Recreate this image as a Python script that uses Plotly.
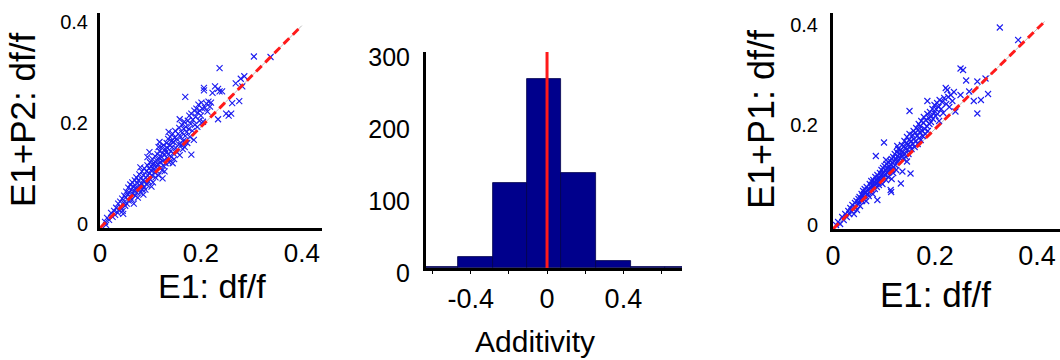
import plotly.graph_objects as go

W, H = 1060, 360
FONT = "Liberation Sans, Arial, sans-serif"

# ---------------- data ----------------
# Left panel: E1 df/f (x) vs E1+P2 df/f (y)
left_pairs = [
    (0.010, 0.012), (0.014, 0.020), (0.018, 0.016), (0.022, 0.030), (0.025, 0.022), (0.028, 0.034), (0.030, 0.026), (0.012, 0.006),
    (0.032, 0.040), (0.035, 0.030), (0.036, 0.048), (0.038, 0.036), (0.040, 0.052), (0.042, 0.040), (0.044, 0.058), (0.045, 0.034),
    (0.047, 0.050), (0.048, 0.064), (0.050, 0.044), (0.046, 0.028),
    (0.051, 0.060), (0.052, 0.072), (0.053, 0.048), (0.055, 0.066), (0.056, 0.080), (0.057, 0.054), (0.058, 0.070), (0.060, 0.062),
    (0.060, 0.086), (0.062, 0.076), (0.063, 0.056), (0.064, 0.090), (0.065, 0.068), (0.066, 0.082), (0.067, 0.048), (0.068, 0.074),
    (0.069, 0.094), (0.070, 0.064),
    (0.071, 0.080), (0.072, 0.100), (0.073, 0.070), (0.074, 0.088), (0.075, 0.060), (0.076, 0.094), (0.077, 0.078), (0.078, 0.106),
    (0.079, 0.084), (0.080, 0.070), (0.081, 0.098), (0.082, 0.088), (0.083, 0.112), (0.084, 0.076), (0.085, 0.094), (0.086, 0.104),
    (0.087, 0.082), (0.088, 0.118), (0.089, 0.092), (0.090, 0.076), (0.080, 0.120), (0.086, 0.066),
    (0.091, 0.100), (0.092, 0.112), (0.093, 0.086), (0.094, 0.124), (0.095, 0.104), (0.096, 0.092), (0.097, 0.118), (0.098, 0.108),
    (0.099, 0.130), (0.100, 0.096), (0.101, 0.114), (0.102, 0.122), (0.103, 0.104), (0.104, 0.136), (0.105, 0.090), (0.106, 0.116),
    (0.107, 0.128), (0.108, 0.110), (0.109, 0.142), (0.110, 0.100), (0.094, 0.140), (0.102, 0.082), (0.098, 0.150), (0.108, 0.124),
    (0.111, 0.120), (0.112, 0.134), (0.113, 0.112), (0.114, 0.146), (0.115, 0.126), (0.116, 0.104), (0.117, 0.138), (0.118, 0.152),
    (0.119, 0.118), (0.120, 0.130), (0.121, 0.160), (0.122, 0.140), (0.123, 0.114), (0.124, 0.148), (0.125, 0.132), (0.126, 0.164),
    (0.127, 0.122), (0.128, 0.144), (0.129, 0.156), (0.130, 0.128), (0.118, 0.170), (0.124, 0.098), (0.116, 0.160), (0.128, 0.112),
    (0.131, 0.150), (0.132, 0.168), (0.133, 0.138), (0.134, 0.158), (0.135, 0.176), (0.136, 0.146), (0.137, 0.130), (0.138, 0.164),
    (0.139, 0.180), (0.140, 0.152), (0.141, 0.140), (0.142, 0.172), (0.143, 0.160), (0.144, 0.186), (0.145, 0.148), (0.146, 0.170),
    (0.147, 0.136), (0.148, 0.178), (0.149, 0.192), (0.150, 0.158), (0.136, 0.190), (0.144, 0.128),
    (0.152, 0.176), (0.153, 0.150), (0.155, 0.186), (0.156, 0.166), (0.157, 0.198), (0.158, 0.144), (0.160, 0.180), (0.161, 0.164),
    (0.162, 0.204), (0.163, 0.188), (0.164, 0.156), (0.165, 0.172), (0.166, 0.196), (0.167, 0.210), (0.168, 0.160), (0.169, 0.182),
    (0.170, 0.200), (0.158, 0.215),
    (0.172, 0.190), (0.173, 0.168), (0.174, 0.212), (0.176, 0.196), (0.177, 0.222), (0.178, 0.180), (0.180, 0.206), (0.181, 0.226),
    (0.183, 0.192), (0.184, 0.214), (0.186, 0.174), (0.187, 0.232), (0.188, 0.204), (0.181, 0.145),
    (0.190, 0.220), (0.191, 0.236), (0.193, 0.200), (0.194, 0.228), (0.195, 0.244), (0.197, 0.212), (0.198, 0.232), (0.200, 0.222),
    (0.201, 0.248), (0.203, 0.236), (0.204, 0.210), (0.206, 0.272), (0.206, 0.277), (0.208, 0.238),
    (0.211, 0.246), (0.213, 0.230), (0.215, 0.250), (0.218, 0.240), (0.220, 0.248), (0.223, 0.267), (0.228, 0.280), (0.234, 0.275),
    (0.234, 0.215), (0.237, 0.270),
    (0.169, 0.259), (0.237, 0.316), (0.242, 0.270), (0.250, 0.226), (0.255, 0.222), (0.260, 0.226), (0.262, 0.247), (0.269, 0.286),
    (0.276, 0.251), (0.279, 0.295), (0.282, 0.280), (0.286, 0.300), (0.305, 0.339), (0.338, 0.338),
]
e1_left = [p[0] for p in left_pairs]
e1p2_left = [p[1] for p in left_pairs]

# Right panel: E1 df/f (x) vs E1+P1 df/f (y)
right_pairs = [
    (0.006, 0.008), (0.010, 0.014), (0.014, 0.010), (0.018, 0.024), (0.021, 0.018), (0.024, 0.030), (0.027, 0.024), (0.030, 0.036),
    (0.032, 0.030), (0.034, 0.042), (0.036, 0.036), (0.038, 0.048), (0.040, 0.040), (0.041, 0.030), (0.043, 0.052), (0.044, 0.044),
    (0.046, 0.056), (0.047, 0.038), (0.049, 0.050), (0.050, 0.060),
    (0.051, 0.054), (0.052, 0.064), (0.053, 0.046), (0.055, 0.060), (0.056, 0.070), (0.057, 0.056), (0.058, 0.066), (0.059, 0.076),
    (0.060, 0.060), (0.061, 0.070), (0.062, 0.080), (0.063, 0.064), (0.064, 0.074), (0.065, 0.056), (0.066, 0.084), (0.067, 0.070),
    (0.068, 0.078), (0.070, 0.066),
    (0.071, 0.080), (0.072, 0.090), (0.073, 0.074), (0.074, 0.084), (0.075, 0.096), (0.076, 0.078), (0.077, 0.088), (0.078, 0.070),
    (0.079, 0.098), (0.080, 0.086), (0.081, 0.094), (0.082, 0.080), (0.083, 0.104), (0.084, 0.090), (0.085, 0.098), (0.086, 0.084),
    (0.087, 0.108), (0.088, 0.094), (0.089, 0.102), (0.090, 0.088), (0.084, 0.146), (0.087, 0.058),
    (0.091, 0.100), (0.092, 0.112), (0.093, 0.094), (0.094, 0.106), (0.095, 0.118), (0.096, 0.100), (0.097, 0.110), (0.098, 0.122),
    (0.099, 0.104), (0.100, 0.114), (0.100, 0.173), (0.101, 0.126), (0.102, 0.108), (0.103, 0.118), (0.104, 0.098), (0.105, 0.130),
    (0.106, 0.112), (0.107, 0.122), (0.108, 0.134), (0.109, 0.116), (0.110, 0.126), (0.104, 0.138), (0.097, 0.090), (0.108, 0.104),
    (0.111, 0.120), (0.112, 0.136), (0.113, 0.078), (0.114, 0.074), (0.115, 0.100), (0.114, 0.128), (0.115, 0.140), (0.116, 0.118),
    (0.117, 0.132), (0.118, 0.144), (0.119, 0.124), (0.120, 0.136), (0.121, 0.150), (0.122, 0.128), (0.123, 0.140), (0.124, 0.118),
    (0.125, 0.154), (0.126, 0.134), (0.127, 0.146), (0.128, 0.160), (0.129, 0.138), (0.130, 0.150), (0.118, 0.112), (0.126, 0.166),
    (0.131, 0.142), (0.132, 0.158), (0.133, 0.091), (0.134, 0.148), (0.135, 0.168), (0.136, 0.115), (0.137, 0.154), (0.138, 0.140),
    (0.139, 0.164), (0.140, 0.176), (0.141, 0.150), (0.142, 0.162), (0.143, 0.144), (0.144, 0.172), (0.145, 0.184), (0.146, 0.158),
    (0.147, 0.168), (0.148, 0.150), (0.149, 0.178), (0.150, 0.190), (0.150, 0.236), (0.145, 0.135),
    (0.151, 0.166), (0.152, 0.111), (0.153, 0.176), (0.154, 0.160), (0.156, 0.188), (0.157, 0.170), (0.158, 0.196), (0.159, 0.180),
    (0.160, 0.164), (0.161, 0.192), (0.162, 0.176), (0.163, 0.202), (0.165, 0.186), (0.166, 0.170), (0.167, 0.198), (0.168, 0.210),
    (0.169, 0.182), (0.170, 0.194),
    (0.171, 0.206), (0.172, 0.178), (0.173, 0.216), (0.175, 0.196), (0.176, 0.186), (0.177, 0.212), (0.178, 0.224), (0.180, 0.200),
    (0.181, 0.190), (0.182, 0.218), (0.184, 0.206), (0.185, 0.230), (0.185, 0.256), (0.186, 0.196), (0.188, 0.222), (0.189, 0.210),
    (0.190, 0.234), (0.192, 0.214), (0.193, 0.226), (0.195, 0.240), (0.196, 0.220), (0.198, 0.232), (0.199, 0.248), (0.201, 0.226),
    (0.202, 0.240), (0.204, 0.252), (0.205, 0.230), (0.207, 0.244), (0.208, 0.216), (0.209, 0.258),
    (0.212, 0.240), (0.214, 0.254), (0.216, 0.232), (0.218, 0.262), (0.221, 0.282), (0.224, 0.278), (0.222, 0.250), (0.226, 0.264),
    (0.228, 0.244), (0.231, 0.268), (0.234, 0.256), (0.237, 0.274), (0.240, 0.235), (0.250, 0.268),
    (0.250, 0.321), (0.255, 0.318), (0.261, 0.297), (0.267, 0.275), (0.276, 0.256), (0.283, 0.295), (0.283, 0.231), (0.290, 0.258),
    (0.299, 0.301), (0.304, 0.270), (0.327, 0.403), (0.363, 0.378),
]
e1_right = [p[0] for p in right_pairs]
e1p1_right = [p[1] for p in right_pairs]

# Unity lines
unity_left = [0.0, 0.40]
unity_right = [0.0, 0.415]

# Histogram of additivity
hist_centers = [-0.557, -0.376, -0.195, -0.015, 0.166, 0.347, 0.528, 0.709]
hist_counts = [1, 15, 118, 262, 132, 10, 1, 1]
bin_width = 0.181
zero_x = [0, 0]
zero_y = [0, 300]

# Tick labels
scatter_ticks = [0, 0.2, 0.4]
scatter_ticktext = ["0", "0.2", "0.4"]
hist_xticks = [-0.6, -0.4, -0.2, 0, 0.2, 0.4, 0.6]
hist_xticktext = ["", "-0.4", "", "0", "", "0.4", ""]
hist_yticks = [0, 100, 200, 300]

# ---------------- layout helpers ----------------
def xd(a, b):
    return [a / W, b / W]

def yd(top, bottom):
    return [1 - bottom / H, 1 - top / H]

BLUE = "#1c1cf0"
RED = "#ff1a1a"
NAVY = "#00008c"

fig = go.Figure()

marker = dict(symbol="x-thin", size=6, line=dict(width=1.1, color=BLUE))

# Left scatter
fig.add_trace(go.Scatter(x=unity_left, y=unity_left, mode="lines",
                         line=dict(color="#bbbbbb", width=1), xaxis="x", yaxis="y", hoverinfo="skip"))
fig.add_trace(go.Scatter(x=e1_left, y=e1p2_left, mode="markers", marker=marker, xaxis="x", yaxis="y"))
fig.add_trace(go.Scatter(x=unity_left, y=unity_left, mode="lines",
                         line=dict(color=RED, width=3, dash="8px,5px"), xaxis="x", yaxis="y"))

# Histogram
fig.add_trace(go.Bar(x=hist_centers, y=hist_counts, width=bin_width,
                     marker=dict(color=NAVY, line=dict(color="#00004a", width=0.8)),
                     xaxis="x2", yaxis="y2"))
fig.add_trace(go.Scatter(x=zero_x, y=zero_y, mode="lines", line=dict(color=RED, width=3),
                         xaxis="x2", yaxis="y2"))

# Right scatter
fig.add_trace(go.Scatter(x=unity_right, y=unity_right, mode="lines",
                         line=dict(color="#bbbbbb", width=1), xaxis="x3", yaxis="y3", hoverinfo="skip"))
fig.add_trace(go.Scatter(x=e1_right, y=e1p1_right, mode="markers", marker=marker, xaxis="x3", yaxis="y3"))
fig.add_trace(go.Scatter(x=unity_right, y=unity_right, mode="lines",
                         line=dict(color=RED, width=3, dash="8px,5px"), xaxis="x3", yaxis="y3"))

axis_common = dict(showgrid=False, zeroline=False, showline=True, linecolor="black", linewidth=3,
                   fixedrange=True, automargin=False)

fig.update_layout(
    width=W, height=H,
    margin=dict(l=0, r=0, t=0, b=0, autoexpand=False),
    paper_bgcolor="white", plot_bgcolor="white",
    showlegend=False,
    font=dict(family=FONT, color="black"),
    bargap=0,
    xaxis=dict(domain=xd(100, 322), range=[0, 0.44], anchor="y", tickvals=scatter_ticks,
               ticktext=scatter_ticktext, ticks="", tickfont=dict(size=26), ticklabelstandoff=0,
               **axis_common),
    yaxis=dict(domain=yd(13, 228), range=[0, 0.425], anchor="x", tickvals=scatter_ticks,
               ticktext=scatter_ticktext, ticks="", tickfont=dict(size=20), ticklabelstandoff=5,
               ticklabelshift=-4, **axis_common),
    xaxis2=dict(domain=xd(426, 682), range=[-0.634, 0.707], anchor="y2", tickvals=hist_xticks,
                ticktext=hist_xticktext, ticks="outside", ticklen=3, tickwidth=1, tickcolor="black",
                tickfont=dict(size=27), ticklabelstandoff=2, **axis_common),
    yaxis2=dict(domain=yd(52, 268), range=[0, 300], anchor="x2", tickvals=hist_yticks,
                ticks="", tickfont=dict(size=25), ticklabelstandoff=8, ticklabelshift=5,
                **axis_common),
    xaxis3=dict(domain=xd(833, 1060), range=[0, 0.445], anchor="y3", tickvals=scatter_ticks,
                ticktext=scatter_ticktext, ticks="", tickfont=dict(size=27), ticklabelstandoff=1,
                **axis_common),
    yaxis3=dict(domain=yd(13, 229), range=[0, 0.432], anchor="x3", tickvals=scatter_ticks,
                ticktext=scatter_ticktext, ticks="", tickfont=dict(size=20), ticklabelstandoff=8,
                ticklabelshift=-4, **axis_common),
)

def ann(text, cx, cy, size, angle=0):
    fig.add_annotation(text=text, x=cx / W, y=1 - cy / H, xref="paper", yref="paper",
                       xanchor="center", yanchor="middle", showarrow=False, textangle=angle,
                       font=dict(size=size, family=FONT, color="black"))

ann("E1+P2: df/f", 23, 120, 35, -90)
ann("E1: df/f", 212, 286, 34)
ann("Additivity", 535, 341, 30)
ann("E1+P1: df/f", 762, 119, 36, -90)
ann("E1: df/f", 935, 294, 35)

fig.write_html("out.html")
